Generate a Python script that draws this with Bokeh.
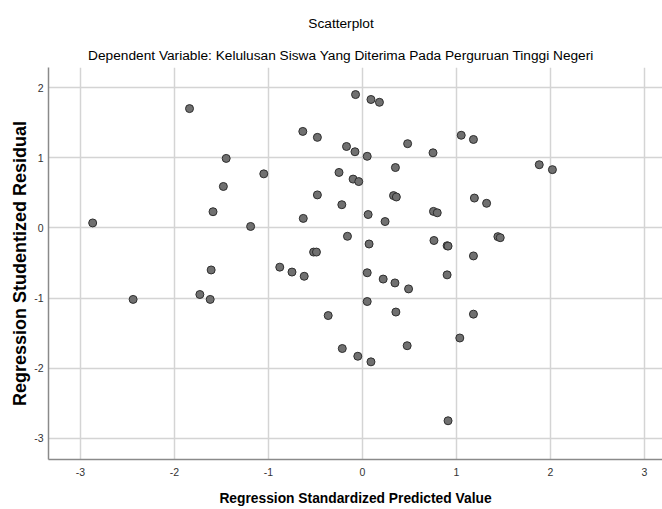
from bokeh.plotting import figure
from bokeh.models import Range1d, FixedTicker, Title, ColumnDataSource, CustomJSTickFormatter
from bokeh.embed import file_html
from bokeh.resources import INLINE

predicted = [-2.87, -1.84, -1.45, -1.48, -1.59, -1.19, -1.05, -0.635, -0.48, -0.17,
             -0.25, -0.48, -0.22, -0.63, -0.16, -0.52, -0.49, -0.074, 0.09, 0.18,
             -0.08, 0.05, 0.48, 0.75, 1.05, 1.18, 1.88, 2.02, -0.10, -0.04,
             0.35, 0.33, 0.36, 0.06, 0.24, 0.755, 0.795, 1.19, 1.32, 0.07,
             0.76, 0.90, 0.91, 1.44, 1.465, 1.18, -1.61, -0.88, -0.75, -0.62,
             -1.73, -1.62, -2.44, -0.365, -0.215, 0.05, 0.22, 0.345, 0.49, 0.90,
             0.05, 0.355, 1.18, 1.035, 0.475, -0.05, 0.09, 0.91]
residual = [0.07, 1.70, 0.99, 0.59, 0.23, 0.02, 0.77, 1.375, 1.29, 1.16,
            0.79, 0.47, 0.33, 0.135, -0.12, -0.345, -0.345, 1.90, 1.83, 1.79,
            1.085, 1.02, 1.20, 1.07, 1.32, 1.26, 0.90, 0.83, 0.695, 0.66,
            0.86, 0.46, 0.44, 0.19, 0.09, 0.235, 0.215, 0.425, 0.35, -0.23,
            -0.18, -0.255, -0.26, -0.125, -0.14, -0.40, -0.60, -0.56, -0.63, -0.69,
            -0.95, -1.02, -1.02, -1.25, -1.72, -0.64, -0.73, -0.785, -0.87, -0.67,
            -1.05, -1.20, -1.23, -1.57, -1.68, -1.83, -1.91, -2.75]
ticks = [-3, -2, -1, 0, 1, 2, 3]

title_text = "Scatterplot"
subtitle_text = "Dependent Variable: Kelulusan Siswa Yang Diterima Pada Perguruan Tinggi Negeri"
x_label = "Regression Standardized Predicted Value"
y_label = "Regression Studentized Residual"

SANS = "Liberation Sans"

p = figure(width=662, height=509, output_backend="svg", toolbar_location=None,
           x_range=Range1d(-3.340, 3.191), y_range=Range1d(-3.302, 2.286),
           min_border_left=48, min_border_right=0, min_border_top=67, min_border_bottom=50,
           background_fill_color="white", border_fill_color="white")
p.title.visible = False
p.outline_line_color = None

sub = Title(text=subtitle_text, align="left", offset=39.6, standoff=9.6,
            text_font=SANS, text_font_size="13.7px", text_font_style="normal",
            text_color="#000000")
main = Title(text=title_text, align="left", offset=259.8, standoff=19.6,
             text_font=SANS, text_font_size="13.7px", text_font_style="normal",
             text_color="#000000")
p.add_layout(sub, "above")
p.add_layout(main, "above")

fmt = CustomJSTickFormatter(code="return tick.toFixed(0);")
for ax in (p.xaxis[0], p.yaxis[0]):
    ax.ticker = FixedTicker(ticks=ticks)
    ax.formatter = fmt
    ax.major_tick_line_color = None
    ax.minor_tick_line_color = None
    ax.major_tick_in = 0
    ax.major_tick_out = 0
    ax.axis_line_color = "#8a8a8a"
    ax.axis_line_width = 1.5
    ax.major_label_text_font = SANS
    ax.major_label_text_font_size = "10.5px"
    ax.major_label_text_color = "#333333"

p.xaxis.major_label_standoff = 8
p.yaxis.major_label_standoff = 5
p.xaxis.axis_label = x_label
p.xaxis.axis_label_text_font = SANS
p.xaxis.axis_label_text_font_size = "13.8px"
p.xaxis.axis_label_text_font_style = "bold"
p.xaxis.axis_label_text_color = "#000000"
p.xaxis.axis_label_standoff = 12
p.yaxis.axis_label = y_label
p.yaxis.axis_label_text_font = SANS
p.yaxis.axis_label_text_font_size = "18px"
p.yaxis.axis_label_text_font_style = "bold"
p.yaxis.axis_label_text_color = "#000000"
p.yaxis.axis_label_standoff = 1

for g in (p.xgrid[0], p.ygrid[0]):
    g.ticker = FixedTicker(ticks=ticks)
    g.grid_line_color = "#d4d4d4"
    g.grid_line_width = 1.5

src = ColumnDataSource(dict(x=predicted, y=residual))
p.scatter("x", "y", source=src, size=8, fill_color="#707070",
          line_color="#2e2e2e", line_width=1)

open("out.html", "w").write(file_html(p, INLINE))
